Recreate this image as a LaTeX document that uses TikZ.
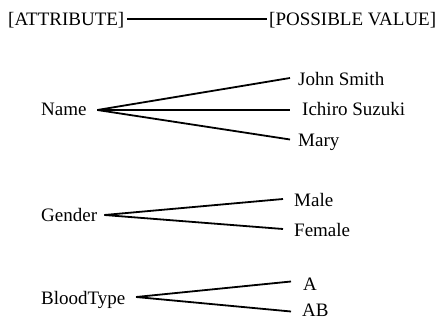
\documentclass[tikz,border=0pt]{standalone}
\usepackage{fontspec}
\setmainfont{Liberation Serif}
\begin{document}
\begin{tikzpicture}[x=1pt,y=-1pt,
  lbl/.style={anchor=base west,inner sep=0pt,font=\fontsize{19}{21}\selectfont},
  link/.style={line width=1.8pt}]
\useasboundingbox (0,0) rectangle (438,320);
% header
\node[lbl] (attr) at (8,26) {[ATTRIBUTE]};
\node[lbl] (pv) at (269,26) {[POSSIBLE VALUE]};
\draw[link] ([shift={(2.8,-7)}]attr.base east) -- ([shift={(-2,-7)}]pv.base west);
% Name
\node[lbl] (name) at (41,116) {Name};
\node[lbl] (john) at (298,85.5) {John Smith};
\node[lbl] (ichiro) at (302,116) {Ichiro Suzuki};
\node[lbl] (mary) at (298,146.5) {Mary};
\draw[link] ([shift={(10.6,-6)}]name.base east) -- ([shift={(-8,-7.5)}]john.base west);
\draw[link] ([shift={(10.6,-6)}]name.base east) -- ([shift={(-12,-6)}]ichiro.base west);
\draw[link] ([shift={(10.6,-6)}]name.base east) -- ([shift={(-8,-7)}]mary.base west);
% Gender
\node[lbl] (gender) at (41,221) {Gender};
\node[lbl] (male) at (294,206.5) {Male};
\node[lbl] (female) at (294,236.5) {Female};
\draw[link] ([shift={(7.1,-6)}]gender.base east) -- ([shift={(-11,-7.5)}]male.base west);
\draw[link] ([shift={(7.1,-6)}]gender.base east) -- ([shift={(-11,-7.5)}]female.base west);
% BloodType
\node[lbl] (blood) at (41,304) {BloodType};
\node[lbl] (a) at (303,290) {A};
\node[lbl] (ab) at (302,316) {AB};
\draw[link] ([shift={(10.5,-7)}]blood.base east) -- ([shift={(-12,-8.5)}]a.base west);
\draw[link] ([shift={(10.5,-7)}]blood.base east) -- ([shift={(-11,-4.5)}]ab.base west);
\end{tikzpicture}
\end{document}
